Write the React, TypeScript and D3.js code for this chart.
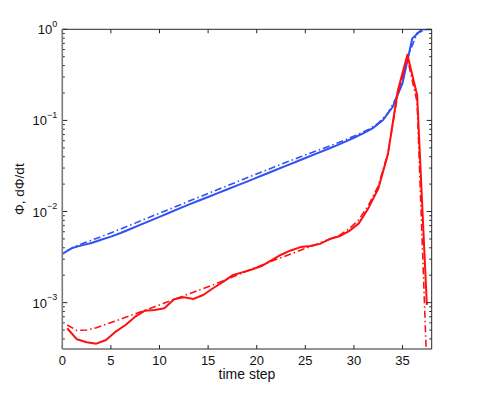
import React from 'react'
import * as d3 from 'd3'

// time steps: Φ sampled at integer steps, dΦ/dt at mid steps
const stepsPhi = d3.range(0, 39)
const stepsMid = d3.range(0.5, 38, 1)

const phiMeasured = [
  3.42e-3, 3.98e-3, 4.25e-3, 4.52e-3, 4.9e-3, 5.31e-3, 5.81e-3, 6.43e-3, 7.13e-3, 7.91e-3,
  8.75e-3, 9.7e-3, 1.076e-2, 1.191e-2, 1.312e-2, 1.445e-2, 1.592e-2, 1.754e-2, 1.936e-2, 2.133e-2,
  2.355e-2, 2.6e-2, 2.871e-2, 3.17e-2, 3.499e-2, 3.864e-2, 4.266e-2, 4.71e-2, 5.2e-2, 5.781e-2,
  6.457e-2, 7.244e-2, 8.3e-2, 0.1012, 0.1413, 0.257, 0.794, 1.0, 1.0,
]

const phiModel = [
  3.72e-3, 4.22e-3, 4.62e-3, 5.07e-3, 5.56e-3, 6.12e-3, 6.76e-3, 7.46e-3, 8.26e-3, 9.12e-3,
  1.007e-2, 1.114e-2, 1.23e-2, 1.361e-2, 1.503e-2, 1.66e-2, 1.832e-2, 2.023e-2, 2.234e-2, 2.466e-2,
  2.716e-2, 2.992e-2, 3.296e-2, 3.622e-2, 3.981e-2, 4.365e-2, 4.786e-2, 5.248e-2, 5.754e-2, 6.383e-2,
  7.079e-2, 7.943e-2, 9.333e-2, 0.1202, 0.1905, 0.4786, 0.912, 1.0,
]

const ratePhiMeasured = [
  5.24e-4, 3.96e-4, 3.67e-4, 3.55e-4, 3.89e-4, 4.81e-4, 5.69e-4, 7.01e-4, 8.17e-4, 8.32e-4,
  8.67e-4, 1.089e-3, 1.146e-3, 1.099e-3, 1.213e-3, 1.439e-3, 1.679e-3, 1.995e-3, 2.148e-3, 2.312e-3,
  2.523e-3, 2.917e-3, 3.357e-3, 3.741e-3, 4.074e-3, 4.188e-3, 4.416e-3, 4.989e-3, 5.346e-3, 6.095e-3,
  7.413e-3, 1.096e-2, 1.778e-2, 4.266e-2, 0.2089, 0.5248, 0.1905, 9.44e-4,
]

const ratePhiModel = [
  5.69e-4, 4.95e-4, 5.01e-4, 5.31e-4, 5.79e-4, 6.31e-4, 6.9e-4, 7.53e-4, 8.26e-4, 9.04e-4,
  9.91e-4, 1.086e-3, 1.189e-3, 1.303e-3, 1.429e-3, 1.567e-3, 1.734e-3, 1.914e-3, 2.113e-3, 2.333e-3,
  2.576e-3, 2.844e-3, 3.119e-3, 3.42e-3, 3.75e-3, 4.111e-3, 4.519e-3, 4.977e-3, 5.483e-3, 6.457e-3,
  8.128e-3, 1.175e-2, 1.905e-2, 4.365e-2, 0.1905, 0.4786, 0.1585, 1.91e-4,
]

const xTicks = [0, 5, 10, 15, 20, 25, 30, 35]
const yDecades = [0, -1, -2, -3]
const minorMultipliers = [2, 3, 4, 5, 6, 7, 8, 9]

const BLUE = '#3150f5'
const RED = '#ff1010'
const FONT = '"Liberation Sans", Arial, Helvetica, sans-serif'

const W = 477
const H = 393
const margin = { top: 29.3, right: 45.3, bottom: 44, left: 62.3 }

export default function App() {
  const width = W - margin.left - margin.right
  const height = H - margin.top - margin.bottom

  const x = d3.scaleLinear().domain([0, 38]).range([0, width])
  const y = d3.scaleLog().domain([3.1e-4, 1]).range([height, 0])

  const line = d3.line<[number, number]>()
    .x(d => x(d[0]))
    .y(d => y(d[1]))

  const series = [
    { xs: stepsPhi, ys: phiMeasured, color: BLUE, dash: null },
    { xs: stepsMid, ys: phiModel, color: BLUE, dash: '7,3,1.5,3' },
    { xs: stepsMid, ys: ratePhiModel, color: RED, dash: '7,3,1.5,3' },
    { xs: stepsMid, ys: ratePhiMeasured, color: RED, dash: null },
  ]

  const minorTicks: number[] = []
  for (let k = -4; k < 0; k += 1) {
    minorMultipliers.forEach((m) => {
      const v = m * 10 ** k
      if (v >= 3.1e-4 && v < 1) minorTicks.push(v)
    })
  }

  const axisColor = '#262626'

  return (
    <svg width={W} height={H} style={{ position: 'absolute', left: 0, top: 0, background: '#fff' }}>
      <defs>
        <clipPath id="plot-area">
          <rect x={0} y={0} width={width} height={height} />
        </clipPath>
      </defs>
      <g transform={`translate(${margin.left},${margin.top})`}>
        {/* data */}
        <g clipPath="url(#plot-area)">
          {series.map((s, i) => (
            <path
              key={i}
              d={line(s.xs.map((t, j) => [t, s.ys[j]] as [number, number])) || ''}
              fill="none"
              stroke={s.color}
              strokeWidth={s.dash ? 1.6 : 2}
              strokeDasharray={s.dash || undefined}
              strokeLinejoin="round"
            />
          ))}
        </g>

        {/* x ticks, bottom and top, pointing inwards */}
        {xTicks.map(t => (
          <g key={`xt${t}`}>
            <line x1={x(t)} x2={x(t)} y1={height} y2={height - 4} stroke={axisColor} />
            <line x1={x(t)} x2={x(t)} y1={0} y2={4} stroke={axisColor} />
            <text
              x={x(t)}
              y={height + 16}
              textAnchor="middle"
              fontFamily={FONT}
              fontSize={13}
              fill="#111"
            >
              {t}
            </text>
          </g>
        ))}

        {/* y major ticks */}
        {yDecades.map(p => (
          <g key={`yt${p}`}>
            <line x1={0} x2={5} y1={y(10 ** p)} y2={y(10 ** p)} stroke={axisColor} />
            <line x1={width} x2={width - 5} y1={y(10 ** p)} y2={y(10 ** p)} stroke={axisColor} />
            <text
              x={-5}
              y={y(10 ** p) + 5}
              textAnchor="end"
              fontFamily={FONT}
              fontSize={13}
              fill="#111"
            >
              10
              <tspan dy={-7.5} fontSize={9}>{p === 0 ? '0' : `\u2212${-p}`}</tspan>
            </text>
          </g>
        ))}

        {/* y minor ticks */}
        {minorTicks.map(v => (
          <g key={`ym${v}`}>
            <line x1={0} x2={2.5} y1={y(v)} y2={y(v)} stroke={axisColor} />
            <line x1={width} x2={width - 2.5} y1={y(v)} y2={y(v)} stroke={axisColor} />
          </g>
        ))}

        {/* box */}
        <line x1={0} x2={width} y1={0} y2={0} stroke={axisColor} />
        <line x1={0} x2={width} y1={height} y2={height} stroke={axisColor} />
        <line x1={width} x2={width} y1={0} y2={height} stroke={axisColor} />
        <line x1={0} x2={0} y1={0} y2={height} stroke="#7a7a7a" strokeWidth={1.6} />

        {/* axis labels */}
        <text
          x={width / 2}
          y={height + 30.5}
          textAnchor="middle"
          fontFamily={FONT}
          fontSize={14}
          fill="#111"
        >
          time step
        </text>
        <text
          transform={`translate(${-38},${height / 2}) rotate(-90)`}
          textAnchor="middle"
          fontFamily={FONT}
          fontSize={13.5}
          fill="#111"
        >
          Φ, dΦ/dt
        </text>
      </g>
    </svg>
  )
}
